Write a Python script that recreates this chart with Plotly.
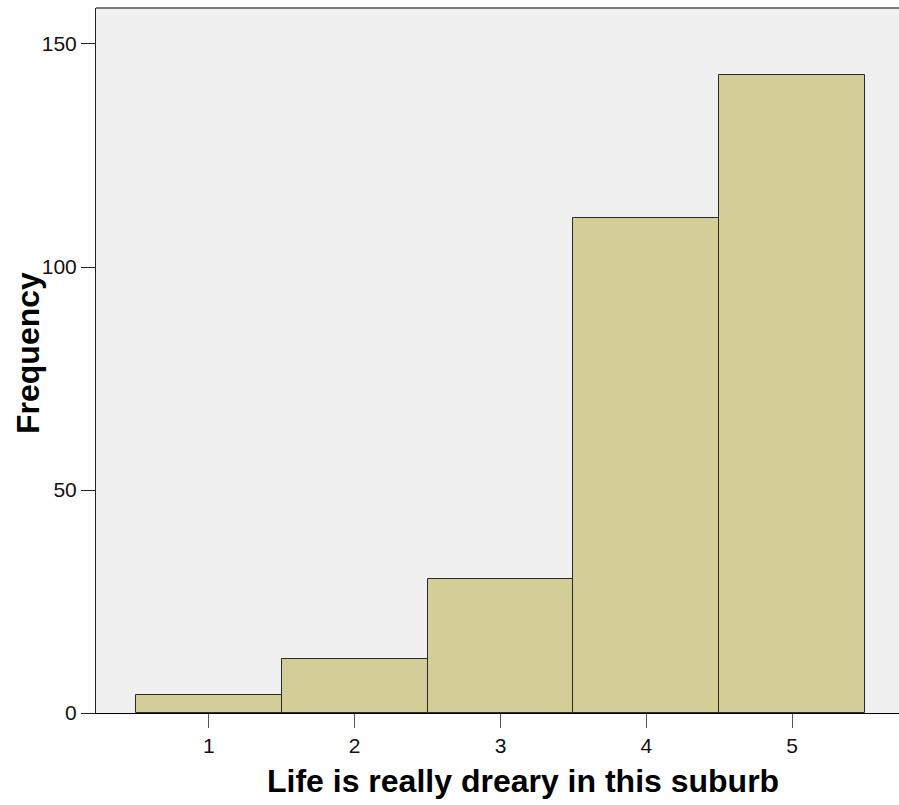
import plotly.graph_objects as go

categories = [1, 2, 3, 4, 5]
frequencies = [4, 12, 30, 111, 143]
y_ticks = [0, 50, 100, 150]
x_title = "Life is really dreary in this suburb"
y_title = "Frequency"

W, H = 899, 805
L, R, T, B = 96, 0, 8, 92

fig = go.Figure()
fig.add_trace(go.Bar(
    x=categories, y=frequencies, width=1,
    marker=dict(color="#D3CE98", line=dict(color="#2a2a2a", width=1)),
    hoverinfo="x+y",
))

fig.update_layout(
    width=W, height=H,
    margin=dict(l=L, r=R, t=T, b=B, pad=0),
    paper_bgcolor="white",
    plot_bgcolor="#F0F0F0",
    showlegend=False,
    bargap=0,
    font=dict(family="Liberation Sans, Arial, sans-serif", color="#111", size=21),
    xaxis=dict(
        range=[0.226, 5.733], tickmode="array", tickvals=categories,
        ticktext=[str(c) for c in categories],
        ticks="outside", ticklen=14, tickcolor="#555", tickwidth=1,
        showgrid=False, zeroline=False,
        showline=True, linecolor="#000", linewidth=1,
        tickfont=dict(size=21), fixedrange=True,
    ),
    yaxis=dict(
        range=[0, 158.07], tickmode="array", tickvals=y_ticks,
        ticks="outside", ticklen=14, tickcolor="#222", tickwidth=1,
        showgrid=False, zeroline=False,
        showline=True, linecolor="#222", linewidth=1,
        tickfont=dict(size=21), fixedrange=True,
    ),
    shapes=[dict(type="line", xref="paper", yref="paper", x0=0, x1=1, y0=1, y1=1,
                 line=dict(color="#777", width=2))],
    annotations=[
        dict(text="<b>" + x_title + "</b>", xref="paper", yref="paper",
             x=(523 - L) / (W - L - R), y=-(781 - (H - B)) / (H - T - B),
             xanchor="center", yanchor="middle", showarrow=False,
             font=dict(size=32, color="#000")),
        dict(text="<b>" + y_title + "</b>", xref="paper", yref="paper",
             x=-(L - 28) / (W - L - R), y=1 - (353 - T) / (H - T - B),
             xanchor="center", yanchor="middle", textangle=-90, showarrow=False,
             font=dict(size=32, color="#000")),
    ],
)

fig.write_html(
    "out.html",
    config={"displayModeBar": False},
    post_script="document.body.style.margin='0';document.body.style.overflow='hidden';",
)
